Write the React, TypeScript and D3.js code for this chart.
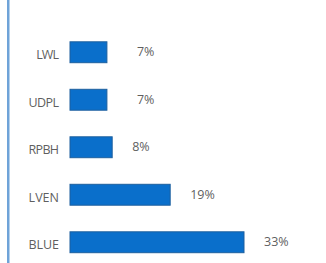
import { useEffect, useRef } from "react"
import * as d3 from "d3"

const categories = ["LWL", "UDPL", "RPBH", "LVEN", "BLUE"]
const values = [7, 7, 8, 19, 33]
const valueLabels = ["7%", "7%", "8%", "19%", "33%"]

export default function App() {
  const ref = useRef<SVGSVGElement | null>(null)

  useEffect(() => {
    const width = 326
    const height = 263
    const svg = d3.select(ref.current)
    svg.selectAll("*").remove()

    const x = d3.scaleLinear().domain([0, 33]).range([70, 244])

    const y = d3.scaleBand<string>()
      .domain(categories)
      .range([28.5, 266])
      .paddingInner(0.56)
      .paddingOuter(0.28)

    const rows = categories.map((c, i) => ({ name: c, value: values[i], label: valueLabels[i] }))

    // left border line
    svg.append("rect")
      .attr("x", 7)
      .attr("y", 0)
      .attr("width", 2.5)
      .attr("height", height)
      .attr("fill", "#6fa3d8")

    // bars
    svg.append("g")
      .selectAll("rect")
      .data(rows)
      .join("rect")
        .attr("x", x(0))
        .attr("y", d => y(d.name)!)
        .attr("width", d => x(d.value) - x(0))
        .attr("height", y.bandwidth())
        .attr("fill", "#0a6fcb")
        .attr("stroke", "#1d5f9e")
        .attr("stroke-width", 1)

    // category labels
    svg.append("g")
        .attr("fill", "#5f5f5f")
        .attr("text-anchor", "end")
        .attr("font-family", "'Open Sans', sans-serif")
        .attr("font-size", 12.5)
      .selectAll("text")
      .data(rows)
      .join("text")
        .attr("x", 59)
        .attr("y", d => y(d.name)! + y.bandwidth() / 2 + 7)
        .attr("textLength", d => d.name.length * 7.6)
        .text(d => d.name)

    // value labels
    svg.append("g")
        .attr("fill", "#5f5f5f")
        .attr("text-anchor", "start")
        .attr("font-family", "'Open Sans', sans-serif")
        .attr("font-size", 12.5)
      .selectAll("text")
      .data(rows)
      .join("text")
        .attr("x", d => x(d.value) + (d.value < 8 ? 30 : 20))
        .attr("y", d => y(d.name)! + y.bandwidth() / 2 + 4)
        .text(d => d.label)

    svg.attr("width", width).attr("height", height)
  }, [])

  return (
    <svg
      ref={ref}
      width={326}
      height={263}
      style={{ position: "absolute", left: 0, top: 0, background: "#fff" }}
    />
  )
}
